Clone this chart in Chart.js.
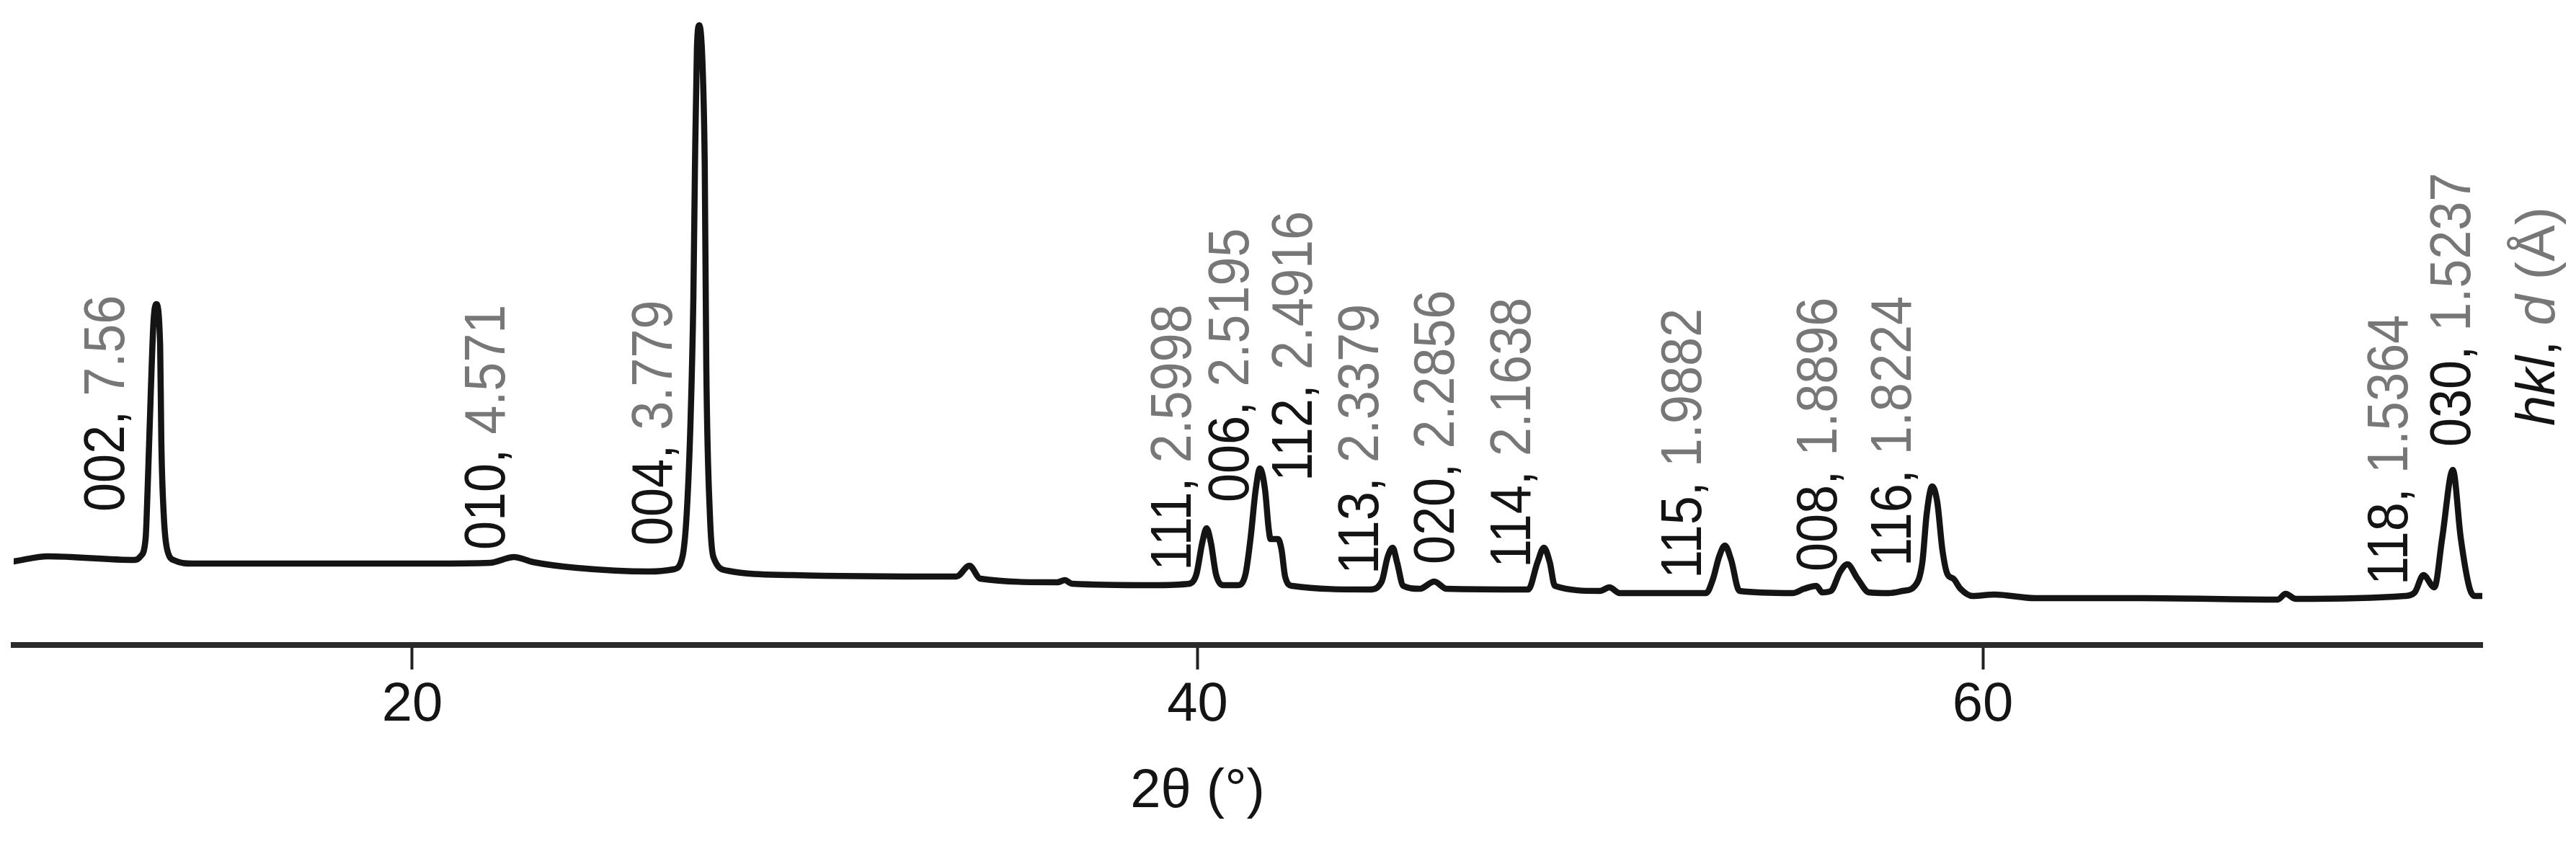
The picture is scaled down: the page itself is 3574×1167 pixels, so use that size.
<!DOCTYPE html>
<html>
<head>
<meta charset="utf-8">
<title>XRD pattern</title>
<script src="https://cdn.jsdelivr.net/npm/chart.js@4.4.1/dist/chart.umd.min.js"></script>
<style>
  html, body { margin: 0; padding: 0; background: #fff; }
  canvas { display: block; }
</style>
</head>
<body>
<canvas id="canvas" width="3574" height="1167"></canvas>
<script>
// pattern: 2theta (deg) and intensity (arbitrary units)
var twoTheta = [
  9.85, 10.72, 12.93, 13.08, 13.21, 13.26, 13.34, 13.41, 13.48, 13.58, 13.61, 13.67, 13.76, 13.96, 14.40,
  19.05, 20.52, 21.98, 22.59, 23.08, 24.19, 26.02, 26.66,
  26.88, 26.99, 27.09, 27.16, 27.20, 27.25, 27.31, 27.40, 27.45, 27.49, 27.58, 27.67, 28.04, 29.69,
  33.86, 34.19, 34.47, 36.43, 36.62, 36.80, 38.87,
  39.79,
  39.97, 40.12, 40.23, 40.34, 40.47, 40.65,
  41.02, 41.22,
  41.35, 41.48, 41.59, 41.72, 41.81, 41.86, 42.05, 42.14, 42.23, 42.41, 44.38,
  44.69, 44.84, 44.97, 45.08, 45.24, 45.66,
  46.03, 46.34, 48.42,
  48.66, 48.82, 48.97, 49.10, 50.25, 50.49, 50.75, 52.95,
  53.13, 53.28, 53.43, 53.59, 53.80, 55.15,
  55.45, 55.76, 55.91, 56.13,
  56.37, 56.55, 56.81, 57.10, 57.60, 57.96,
  58.27, 58.46, 58.57, 58.71, 58.84, 58.97, 59.10, 59.25, 59.43, 59.74, 60.29, 61.33, 64.08, 67.51, 67.71, 67.97, 70.74,
  71.00, 71.22, 71.50, 71.70, 71.97, 72.17, 72.39, 72.52, 72.72
];
var intensity = [
  114, 121, 116, 121, 146, 213, 346, 446, 471, 413, 280, 180, 130, 115, 111,
  111, 111, 112, 120, 113, 105, 100, 103,
  120, 180, 313, 480, 660, 826, 858, 793, 660, 380, 180, 120, 101, 95,
  93, 108, 90, 85, 88, 83, 81,
  83,
  96, 140, 160, 140, 96, 81,
  81, 96,
  146, 213, 243, 213, 160, 145, 145, 130, 93, 80, 75,
  86, 120, 133, 113, 80, 76,
  86, 76, 75,
  113, 133, 113, 80, 73, 78, 70, 70,
  90, 120, 136, 116, 73, 70,
  76, 80, 71, 73,
  100, 110, 90, 71, 70, 73,
  80, 113, 180, 218, 196, 130, 96, 90, 76, 66, 68, 63, 63, 61, 69, 62, 66,
  71, 95, 78, 147, 241, 147, 78, 66, 66
];
var tickValues = [20, 40, 60];

// reflection labels: hkl and d spacing (A)
var peakHkl = ['002', '010', '004', '111', '006', '112', '113', '020', '114', '115', '008', '116', '118', '030'];
var peakD = ['7.56', '4.571', '3.779', '2.5998', '2.5195', '2.4916', '2.3379', '2.2856', '2.1638', '1.9882', '1.8896', '1.8224', '1.5364', '1.5237'];
// where each label sits: 2theta of its baseline, intensity where the text starts
var labelTheta = [12.66, 22.35, 26.61, 39.83, 41.30, 42.91, 44.60, 46.53, 48.47, 52.82, 56.28, 58.17, 70.82, 72.40];
var labelBase = [183, 130, 136, 101, 196, 225, 96, 110, 105, 90, 100, 107, 81, 273];

(function(){
	var canvas = document.getElementById("canvas");
	var font = '"Liberation Sans", Arial, sans-serif';
	var black = '#141414';
	var gray = '#777777';

	var points = [];
	for (var i = 0; i < twoTheta.length; i++) {
		points.push({ x: twoTheta[i], y: intensity[i] });
	}

	// draws a run of text pieces one after another along the current x axis
	function pieces(ctx, parts) {
		var pos = 0;
		parts.forEach(function(p){
			ctx.font = p.font;
			ctx.fillStyle = p.color;
			ctx.fillText(p.text, pos, 0);
			pos += ctx.measureText(p.text).width;
		});
	}

	var peakLabels = {
		id: 'peakLabels',
		afterDraw: function(chart){
			var ctx = chart.ctx, xs = chart.scales.x, ys = chart.scales.y;
			ctx.save();
			ctx.textBaseline = 'alphabetic';
			ctx.textAlign = 'left';

			for (var i = 0; i < peakHkl.length; i++) {
				ctx.save();
				ctx.translate(xs.getPixelForValue(labelTheta[i]), ys.getPixelForValue(labelBase[i]));
				ctx.rotate(-Math.PI / 2);
				ctx.scale(0.9, 1);
				pieces(ctx, [
					{ text: peakHkl[i] + ', ', font: '80px ' + font, color: black },
					{ text: peakD[i], font: '80px ' + font, color: gray }
				]);
				ctx.restore();
			}

			// key for the labels
			ctx.save();
			ctx.translate(xs.getPixelForValue(74.56), ys.getPixelForValue(302));
			ctx.rotate(-Math.PI / 2);
			pieces(ctx, [
				{ text: 'hkl', font: 'italic 76px ' + font, color: black },
				{ text: ', ', font: '76px ' + font, color: black },
				{ text: 'd', font: 'italic 76px ' + font, color: gray },
				{ text: ' (Å)', font: '76px ' + font, color: gray }
			]);
			ctx.restore();

			// axis title
			ctx.font = '76px ' + font;
			ctx.fillStyle = black;
			ctx.textAlign = 'center';
			ctx.fillText('2θ (°)', xs.getPixelForValue(40), chart.chartArea.bottom + 225);
			ctx.restore();
		}
	};

	new Chart(canvas, {
		type: 'line',
		data: {
			datasets: [{
				data: points,
				borderColor: black,
				borderWidth: 8.5,
				borderJoinStyle: 'round',
				borderCapStyle: 'round',
				cubicInterpolationMode: 'monotone',
				pointRadius: 0,
				fill: false
			}]
		},
		options: {
			responsive: false,
			animation: false,
			events: [],
			layout: { padding: { left: 19, right: 130, top: 20, bottom: 0 } },
			plugins: {
				legend: { display: false },
				tooltip: { enabled: false }
			},
			scales: {
				x: {
					type: 'linear',
					min: 9.85,
					max: 72.72,
					afterBuildTicks: function(s){
						s.ticks = tickValues.map(function(v){ return { value: v }; });
					},
					afterFit: function(s){ s.height = 272; },
					grid: { drawOnChartArea: false, tickLength: 34, tickWidth: 4, tickColor: '#222' },
					border: { width: 8, color: '#2b2b2b' },
					ticks: {
						padding: 4,
						color: black,
						maxRotation: 0,
						font: { family: font, size: 76 }
					}
				},
				y: { display: false, min: -2, max: 873 }
			}
		},
		plugins: [peakLabels]
	});
}());
</script>
</body>
</html>
